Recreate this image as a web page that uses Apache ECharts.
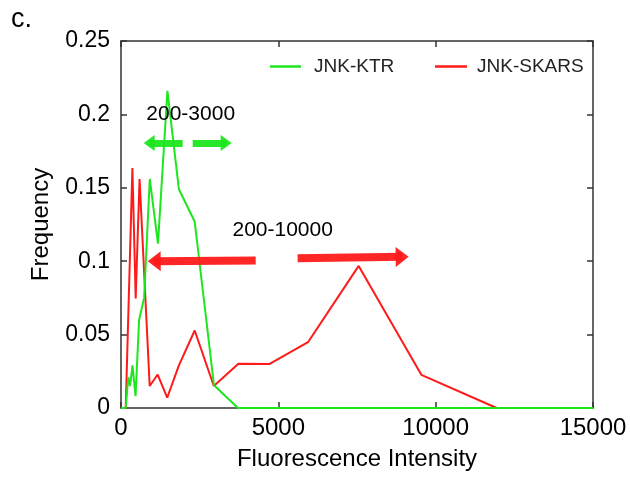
<!DOCTYPE html>
<html>
<head>
<meta charset="utf-8">
<script src="https://cdn.jsdelivr.net/npm/echarts@6/dist/echarts.min.js"></script>
<style>html,body{margin:0;padding:0;background:#fff;}#c{width:630px;height:477px;}</style>
</head>
<body>
<div id="c"></div>
<script>
// Data
const ktrX   = [0, 150, 230, 290, 365, 462, 575, 735, 915, 1175, 1475, 1840, 2342, 2955, 3718, 15000];
const ktrY   = [0, 0, 0.021, 0.015, 0.029, 0.008, 0.060, 0.075, 0.156, 0.112, 0.216, 0.149, 0.127, 0.0155, 0, 0];
const skarsX = [0, 150, 362, 467, 590, 912, 1165, 1468, 1840, 2342, 2950, 3730, 4725, 5943, 7553, 9545, 11940, 15000];
const skarsY = [0, 0, 0.1635, 0.0746, 0.156, 0.0150, 0.0228, 0.0070, 0.029, 0.0528, 0.0150, 0.0302, 0.0300, 0.0448, 0.0968, 0.0226, 0, 0];
const xTicks = [0, 5000, 10000, 15000];
const yTicks = [0, 0.05, 0.1, 0.15, 0.2, 0.25];
const seriesNames = ['JNK-KTR', 'JNK-SKARS'];
const rangeLabels = ['200-3000', '200-10000'];

const GREEN = '#1ee61e';
const RED = '#ff1a1a';
const FONT = 'Liberation Sans, Arial, Helvetica, sans-serif';

const chart = echarts.init(document.getElementById('c'), null, {renderer: 'canvas'});
const pairs = (xs, ys) => xs.map((x, i) => [x, ys[i]]);

const axisLine = {show: true, onZero: false, lineStyle: {color: '#333', width: 1.5}};
const tick = {show: true, inside: true, length: 6, lineStyle: {color: '#333', width: 1.5}};

chart.setOption({
  animation: false,
  backgroundColor: '#fff',
  grid: {left: 121, right: 37, top: 41, bottom: 69, containLabel: false, outerBoundsMode: 'none'},
  graphic: [{type: 'text', left: 11, top: 6, style: {text: 'c.', font: '27px ' + FONT, fill: '#000'}}],
  legend: [
    {data: [seriesNames[0]], left: 265, top: 52, icon: 'rect', itemWidth: 31, itemHeight: 2.5,
     textStyle: {fontFamily: FONT, fontSize: 19, color: '#222', padding: [0, 0, 0, 8]}},
    {data: [seriesNames[1]], left: 430, top: 52, icon: 'rect', itemWidth: 32, itemHeight: 2.5,
     textStyle: {fontFamily: FONT, fontSize: 19, color: '#222', padding: [0, 0, 0, 5]}}
  ],
  xAxis: [
    {type: 'value', min: xTicks[0], max: xTicks[xTicks.length - 1], interval: xTicks[1] - xTicks[0],
     name: 'Fluorescence Intensity', nameLocation: 'middle', nameGap: 39,
     nameTextStyle: {fontFamily: FONT, fontSize: 24, color: '#000'},
     axisLine: axisLine, axisTick: tick, splitLine: {show: false},
     axisLabel: {fontFamily: FONT, fontSize: 24, color: '#000', margin: 8, formatter: v => String(v)}},
    {type: 'value', position: 'top', min: xTicks[0], max: xTicks[xTicks.length - 1], interval: xTicks[1] - xTicks[0],
     axisLine: axisLine, axisTick: tick, splitLine: {show: false}, axisLabel: {show: false}}
  ],
  yAxis: [
    {type: 'value', min: yTicks[0], max: yTicks[yTicks.length - 1], interval: yTicks[1] - yTicks[0],
     name: 'Frequency', nameLocation: 'middle', nameGap: 68, nameRotate: 90,
     nameTextStyle: {fontFamily: FONT, fontSize: 24, color: '#000'},
     axisLine: axisLine, axisTick: tick, splitLine: {show: false},
     axisLabel: {fontFamily: FONT, fontSize: 23, color: '#000', margin: 11, formatter: v => String(+v.toFixed(2))}},
    {type: 'value', position: 'right', min: yTicks[0], max: yTicks[yTicks.length - 1], interval: yTicks[1] - yTicks[0],
     axisLine: axisLine, axisTick: tick, splitLine: {show: false}, axisLabel: {show: false}}
  ],
  series: [
    {name: seriesNames[1], type: 'line', data: pairs(skarsX, skarsY), symbol: 'none',
     lineStyle: {color: RED, width: 2}, itemStyle: {color: RED}, z: 2,
     markLine: {silent: true, symbol: ['none', 'triangle'], symbolSize: [20, 13], label: {show: false},
       itemStyle: {color: RED},
       lineStyle: {color: RED, width: 8, type: 'solid', opacity: 0.95},
       data: [
         [{coord: [4281, 0.1005]}, {coord: [1055, 0.1]}],
         [{coord: [5613, 0.102]}, {coord: [8935, 0.103]}]
       ]},
     markPoint: {symbol: 'circle', symbolSize: 0, data: [{coord: [5138, 0.121], value: rangeLabels[1],
       label: {show: true, formatter: rangeLabels[1], fontFamily: FONT, fontSize: 21, color: '#000', position: 'inside'}}]}},
    {name: seriesNames[0], type: 'line', data: pairs(ktrX, ktrY), symbol: 'none',
     lineStyle: {color: GREEN, width: 2}, itemStyle: {color: GREEN}, z: 3,
     markLine: {silent: true, symbol: ['none', 'triangle'], symbolSize: [16, 11], label: {show: false},
       itemStyle: {color: GREEN},
       lineStyle: {color: GREEN, width: 7, type: 'solid', opacity: 0.95},
       data: [
         [{coord: [1960, 0.1805]}, {coord: [896, 0.1805]}],
         [{coord: [2278, 0.1805]}, {coord: [3343, 0.1805]}]
       ]},
     markPoint: {symbol: 'circle', symbolSize: 0, data: [{coord: [2215, 0.2003], value: rangeLabels[0],
       label: {show: true, formatter: rangeLabels[0], fontFamily: FONT, fontSize: 21, color: '#000', position: 'inside'}}]}}
  ]
});
</script>
</body>
</html>
